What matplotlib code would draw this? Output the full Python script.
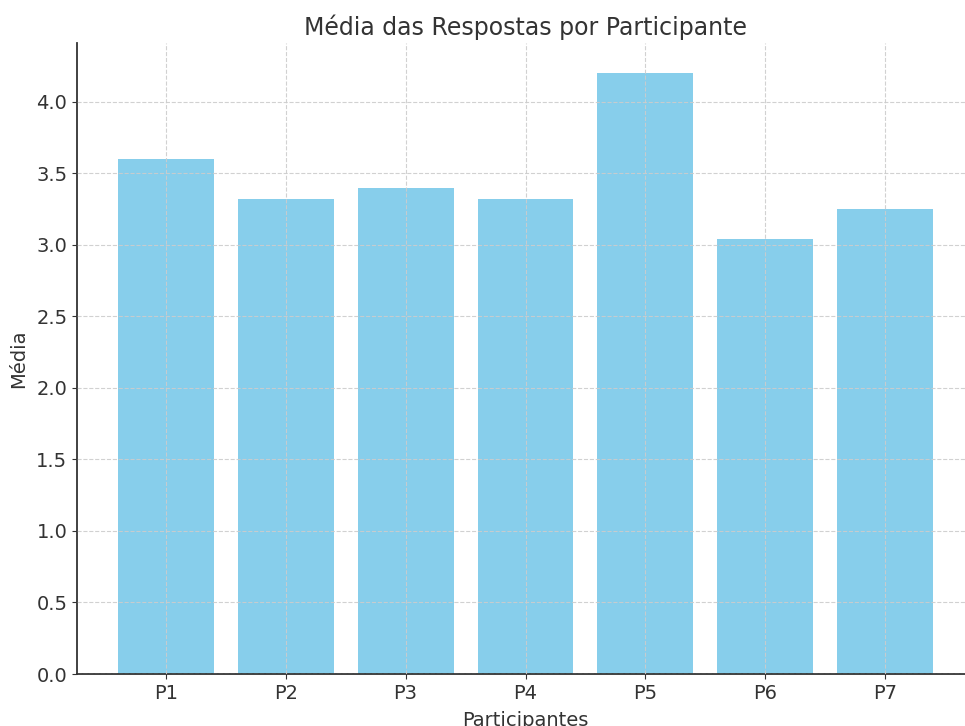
import matplotlib
matplotlib.use("Agg")
import matplotlib.pyplot as plt

participants = ["P1", "P2", "P3", "P4", "P5", "P6", "P7"]
means = [3.6, 3.32, 3.40, 3.32, 4.2, 3.04, 3.25]

plt.rcParams['font.family'] = ['DejaVu Sans']
fig = plt.figure(figsize=(9.65, 7.26), dpi=100)
ax = fig.add_axes([77/965, 1-674/726, (974-77)/965, (674-43)/726])
ax.bar(participants, means, color='skyblue', width=0.8, zorder=1)
ax.set_axisbelow(False)
ax.grid(True, linestyle='--', color='#cccccc', linewidth=0.8, alpha=0.9, zorder=2)
for s in ['top', 'right']:
    ax.spines[s].set_visible(False)
for s in ['left', 'bottom']:
    ax.spines[s].set_color('#333333')
    ax.spines[s].set_linewidth(1.3)
ax.tick_params(labelsize=14, colors='#333333')
ax.set_title("Média das Respostas por Participante", fontsize=17, color='#333333', pad=6)
ax.set_xlabel("Participantes", fontsize=14, color='#333333', labelpad=6)
ax.set_ylabel("Média", fontsize=14, color='#333333', labelpad=6)
fig.savefig("out.png", dpi=100)
